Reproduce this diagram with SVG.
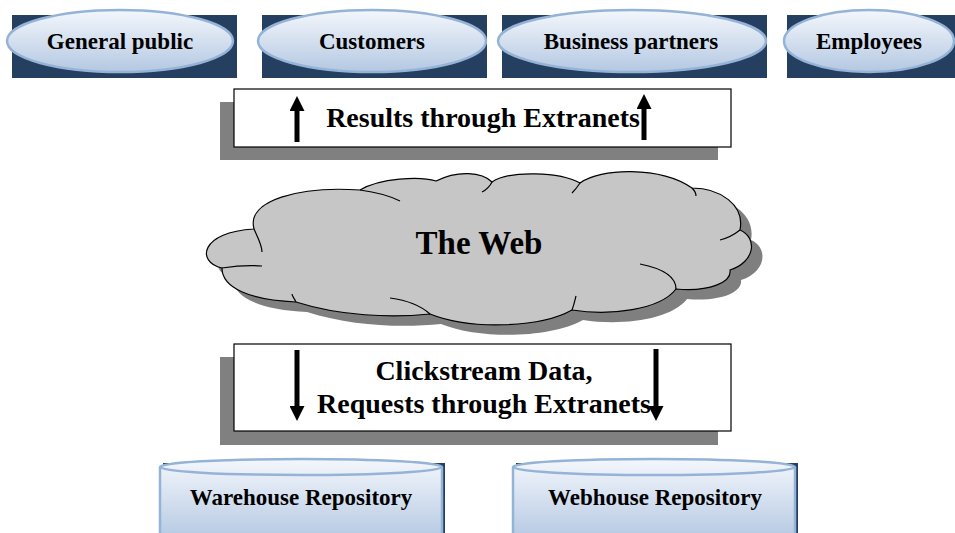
<svg xmlns="http://www.w3.org/2000/svg" width="955" height="533" viewBox="0 0 955 533">
<defs>
<linearGradient id="lg" x1="0" y1="0" x2="0" y2="1">
<stop offset="0" stop-color="#F4F7FC"/>
<stop offset="1" stop-color="#B4C8E2"/>
</linearGradient>
<marker id="ah" viewBox="0 0 10 10" refX="2" refY="5" markerWidth="3" markerHeight="3" orient="auto" markerUnits="strokeWidth">
<path d="M0,0 L10,5 L0,10 z" fill="#000"/>
</marker>
<path id="cloud" d="M 222,268 C 196,262 200,232 254,229 C 246,200 300,186 360,190 C 380,178 420,176 436,181 C 458,170 482,172 492,182 C 510,170 560,172 580,183 C 600,168 660,166 692,188 C 720,188 745,205 740,230 C 758,238 755,262 730,270 C 732,282 710,292 676,289 C 660,310 610,316 572,310 C 540,328 470,330 430,314 C 390,318 340,316 296,302 C 250,300 222,288 222,268 Z"/>
</defs>
<style>
.nav{fill:#243F60}
.ell{fill:url(#lg);stroke:#95B3D7;stroke-width:2.5}
.t{font-family:"Liberation Serif","Times New Roman",serif;font-weight:bold;fill:#000;text-anchor:middle}
.shadow{fill:#808080}
.box{fill:#fff;stroke:#000;stroke-width:1.2}
.arr{stroke:#000;stroke-width:5;fill:none;marker-end:url(#ah)}
.tail{fill:none;stroke:#000;stroke-width:1.2}
</style>

<g id="general-public">
<rect class="nav" x="12" y="15" width="225" height="63"/>
<ellipse class="ell" cx="120" cy="41" rx="113" ry="31"/>
<text class="t" x="120" y="49" font-size="23">General public</text>
</g>
<g id="customers">
<rect class="nav" x="262" y="15" width="225" height="63"/>
<ellipse class="ell" cx="372" cy="41" rx="114" ry="31"/>
<text class="t" x="372" y="49" font-size="23">Customers</text>
</g>
<g id="business-partners">
<rect class="nav" x="502" y="15" width="265" height="63"/>
<ellipse class="ell" cx="632" cy="41" rx="134" ry="31"/>
<text class="t" x="631" y="49" font-size="23">Business partners</text>
</g>
<g id="employees">
<rect class="nav" x="787" y="15" width="168" height="63"/>
<ellipse class="ell" cx="869" cy="41" rx="85" ry="31"/>
<text class="t" x="869" y="49" font-size="23">Employees</text>
</g>

<g id="results">
<rect class="shadow" x="220" y="102" width="498" height="58"/>
<rect class="box" x="234" y="89" width="497" height="58"/>
<text class="t" x="483" y="127" font-size="28">Results through Extranets</text>
</g>

<g id="the-web">
<use href="#cloud" transform="translate(11,10)" fill="#7F7F7F"/>
<use href="#cloud" fill="#C6C6C6" stroke="#000" stroke-width="1.2"/>
<path class="tail" d="M 254,229 C 258,238 262,245 262,252 M 222,268 C 235,266 250,265 262,266 M 360,190 C 375,192 390,196 400,201 M 492,182 C 490,186 486,190 482,192 M 580,183 C 578,186 575,190 572,193 M 692,188 C 694,190 696,193 696,196 M 740,230 C 735,234 728,238 720,240 M 676,289 C 676,275 660,268 640,264 M 572,310 C 574,305 575,300 576,296 M 430,314 C 420,305 405,300 390,298 M 296,302 C 294,298 292,296 292,294"/>
<text class="t" x="479" y="254" font-size="33">The Web</text>
</g>

<g id="clickstream">
<rect class="shadow" x="220" y="357" width="498" height="88"/>
<rect class="box" x="234" y="344" width="497" height="87"/>
<text class="t" x="484" y="380" font-size="28">Clickstream Data,</text>
<text class="t" x="484" y="413" font-size="28">Requests through Extranets</text>
</g>

<g id="warehouse-repository">
<rect class="nav" x="163" y="463" width="282" height="70"/>
<path class="ell" d="M 160,467 L 160,540 L 442,540 L 442,467 A 141,8 0 0 0 160,467 Z"/>
<path d="M 160,467 A 141,8 0 0 0 442,467" fill="none" stroke="#95B3D7" stroke-width="2.5"/>
<text class="t" x="301" y="505" font-size="23">Warehouse Repository</text>
</g>
<g id="webhouse-repository">
<rect class="nav" x="516" y="463" width="282" height="70"/>
<path class="ell" d="M 513,467 L 513,540 L 795,540 L 795,467 A 141,8 0 0 0 513,467 Z"/>
<path d="M 513,467 A 141,8 0 0 0 795,467" fill="none" stroke="#95B3D7" stroke-width="2.5"/>
<text class="t" x="655" y="505" font-size="23">Webhouse Repository</text>
</g>

<g id="connectors">
<line class="arr" x1="297" y1="142" x2="297" y2="108"/>
<line class="arr" x1="644" y1="140" x2="644" y2="106"/>
<line class="arr" x1="297" y1="350" x2="297" y2="409"/>
<line class="arr" x1="656" y1="349" x2="656" y2="409"/>
</g>
</svg>
